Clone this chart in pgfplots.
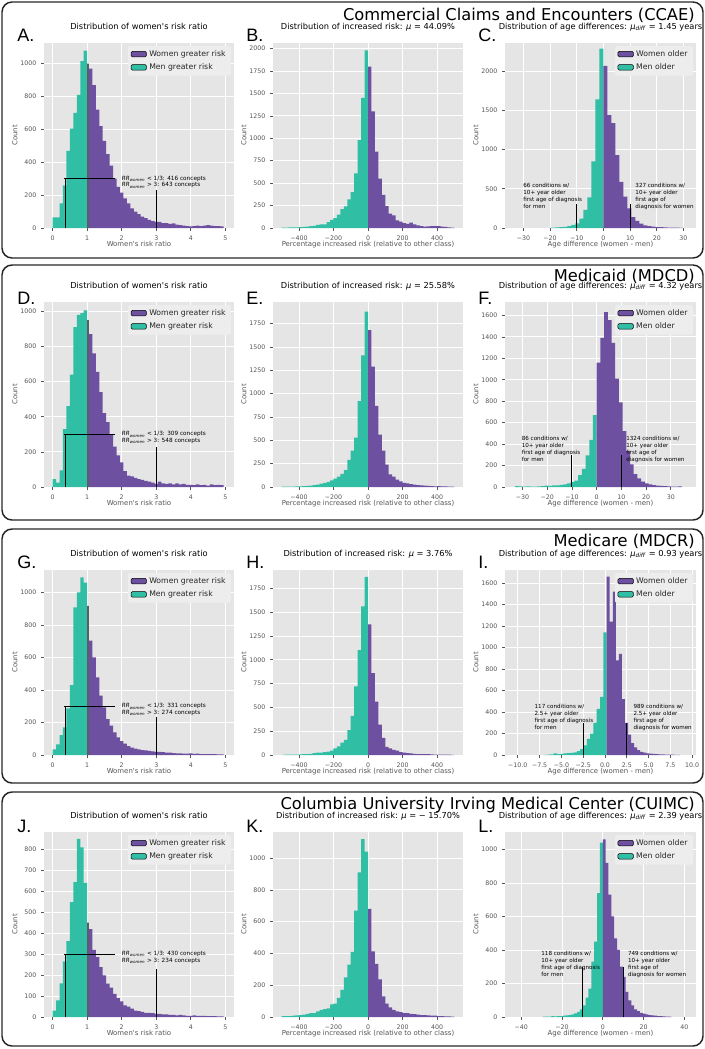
\documentclass[border=0pt]{standalone}
\usepackage{pgfplots}
\pgfplotsset{compat=1.18}
\usepackage{fontspec}
\setmainfont{DejaVu Sans}
\newfontfamily\lettfont{Liberation Sans}
\definecolor{purp}{RGB}{110,80,160}
\definecolor{tealc}{RGB}{48,190,165}
\definecolor{ovl}{RGB}{92,92,104}
\definecolor{bgc}{RGB}{229,229,229}
\definecolor{labc}{RGB}{85,85,85}
\definecolor{legbg}{RGB}{237,237,237}
\newcommand\titlefont{\fontsize{6.2}{7.4}\selectfont}
\newcommand\tickfont{\fontsize{4.7}{5.6}\selectfont}
\newcommand\labfont{\fontsize{5.2}{6.2}\selectfont}
\newcommand\legfont{\fontsize{5.8}{6.6}\selectfont}
\newcommand\annfont{\fontsize{4.2}{5.25}\selectfont}
\newcommand\rrfont{\fontsize{4.3}{5}\selectfont}
\newcommand\panelfont{\fontsize{12.2}{14}\selectfont}
\newcommand\letterfont{\lettfont\fontsize{13.5}{15}\selectfont}
\newcommand\RR{\textit{RR}\textsubscript{\textit{women}}}
\newcommand\mudiff{\textit{μ}\textsubscript{\textit{diff}}}
\tikzset{ln/.style={black, line width=0.75pt}}
\pgfplotsset{
  hbase/.style={
    scale only axis, height=138.75pt,
    axis background/.style={fill=bgc},
    axis line style={draw=none},
    xmajorgrids, ymajorgrids,
    grid style={white, line width=0.6pt},
    tick align=outside, major tick length=2.2pt,
    tick style={labc, line width=0.5pt},
    xtick pos=left, ytick pos=left,
    ymin=0, enlargelimits=false,
    ticklabel style={font=\tickfont, text=labc},
    /pgf/number format/1000 sep={},
    /pgf/number format/assume math mode=true,
    title style={font=\titlefont, at={(axis description cs:0.5,1.032)}, anchor=base, inner sep=0pt},
    xlabel style={font=\labfont, text=labc, at={(axis description cs:0.5,-0.1)}, anchor=base, inner sep=0pt},
    ylabel style={font=\labfont, text=labc, at={(axis description cs:-0.153,0.5)}, anchor=center, inner sep=0pt},
    ylabel={Count},
    legend style={at={(axis description cs:0.985,0.985)}, anchor=north east, draw=none, fill=legbg,
      font=\legfont, text=black!85, inner xsep=2pt, inner ysep=1.2pt, row sep=0pt, rounded corners=1pt,
      cells={anchor=west}},
    legend image code/.code={\fill[#1] (0pt,-2pt) rectangle (11.5pt,2.2pt);},
  },
  c1/.style={hbase, width=142.5pt, xmin=-0.25, xmax=5.25, xtick={0,1,2,3,4,5},
    xlabel={Women\textquotesingle s risk ratio}, title={Distribution of women\textquotesingle s risk ratio}},
  c2/.style={hbase, width=142.5pt, xmin=-550, xmax=550, xtick={-400,-200,0,200,400},
    xticklabels={−400,−200,0,200,400}, xlabel={Percentage increased risk (relative to other class)}},
  c3/.style={hbase, width=143.25pt, xlabel={Age difference (women - men)}},
  ht/.style={draw=none, fill=tealc, const plot mark left, mark=none, forget plot},
  hp/.style={draw=none, fill=purp, const plot mark left, mark=none, forget plot},
  ho/.style={draw=none, fill=ovl, const plot mark left, mark=none, forget plot},
}
\begin{document}
\begin{tikzpicture}
\useasboundingbox (0,0) rectangle (528.75pt,-786.75pt);
% ============ ROW 1 ============
\begin{axis}[c1, at={(33pt,-171pt)}, anchor=south west, ymax=1126, ytick={0,200,...,1000}]
\addplot[ht] coordinates {(0,65)(0.1,65)(0.2,150)(0.3,260)(0.4,470)(0.5,605)(0.6,700)(0.7,810)(0.8,1015)(0.9,1080)(1.0,1080)} \closedcycle;
\addplot[ho] coordinates {(1.0,1000)(1.05,1000)} \closedcycle;
\addplot[hp] coordinates {(1.05,970)(1.15,870)(1.25,720)(1.35,620)(1.45,530)(1.55,450)(1.65,380)(1.75,300)(1.85,250)(1.95,215)(2.05,180)(2.15,150)(2.25,120)(2.35,100)(2.45,85)(2.55,70)(2.65,60)(2.75,50)(2.85,42)(2.95,38)(3.05,38)(3.15,30)(3.25,30)(3.35,25)(3.45,28)(3.55,20)(3.65,18)(3.75,15)(3.85,12)(3.95,10)(4.05,12)(4.15,15)(4.25,12)(4.35,15)(4.45,18)(4.55,15)(4.65,12)(4.75,12)(4.85,10)(4.95,10)} \closedcycle;
\draw[ln] (axis cs:0.36,0) -- (axis cs:0.36,300);
\draw[ln] (axis cs:0.34,300) -- (axis cs:1.8,300);
\draw[ln] (axis cs:3,0) -- (axis cs:3,232);
\node[anchor=west, font=\rrfont, inner sep=0] at (axis cs:2.0,300) {\RR{} < 1/3: 416 concepts};
\node[anchor=west, font=\rrfont, inner sep=0, yshift=-5pt] at (axis cs:2.0,300) {\RR{} > 3: 643 concepts};
\addlegendimage{fill=purp}\addlegendentry{Women greater risk}
\addlegendimage{fill=tealc}\addlegendentry{Men greater risk}
\end{axis}
\begin{axis}[c2, at={(204.75pt,-171pt)}, anchor=south west, ymax=2062, ytick={0,250,...,2000},
  title={Distribution of increased risk: \textit{μ} = 44.09\%}]
\addplot[ht] coordinates {(-500,5)(-480,5)(-460,6)(-440,8)(-420,8)(-400,10)(-380,12)(-360,15)(-340,20)(-320,25)(-300,35)(-280,40)(-260,40)(-240,65)(-220,90)(-200,110)(-180,150)(-160,210)(-140,240)(-120,320)(-100,400)(-80,610)(-60,980)(-40,1450)(-20,1980)(0,1980)} \closedcycle;
\addplot[hp] coordinates {(0,1800)(20,1300)(40,850)(60,550)(80,370)(100,245)(120,160)(140,140)(160,85)(180,70)(200,55)(220,45)(240,60)(260,40)(280,30)(300,20)(320,15)(340,18)(360,20)(380,22)(400,20)(420,15)(440,12)(460,8)(480,5)(500,5)} \closedcycle;
\end{axis}
\begin{axis}[c3, at={(378.75pt,-171pt)}, anchor=south west, xmin=-36.9, xmax=34.7, ymax=2361,
  xtick={-30,-20,...,30}, xticklabels={−30,−20,−10,0,10,20,30}, ytick={0,500,...,2000},
  title={Distribution of age differences: \mudiff{} = 1.45 years}]
\addplot[ht] coordinates {(-19.5,5)(-18,8)(-16.5,10)(-15,15)(-13.5,25)(-12,40)(-10.5,60)(-9,120)(-7.5,230)(-6,390)(-4.5,850)(-3,1640)(-1.5,2290)(0,2290)} \closedcycle;
\addplot[hp] coordinates {(0,2070)(1.5,1440)(3,1340)(4.5,930)(6,590)(7.5,400)(9,250)(10.5,140)(12,90)(13.5,55)(15,35)(16.5,25)(18,18)(19.5,12)(21,10)(22.5,8)(24,6)(25.5,5)(27,4)(28.5,3)(30,3)} \closedcycle;
\draw[ln] (axis cs:-10,0) -- (axis cs:-10,300);
\draw[ln] (axis cs:10,0) -- (axis cs:10,300);
\node[anchor=north west, align=left, font=\annfont, inner sep=0] at (axis cs:-30.1,575) {66 conditions w/\\10+ year older\\first age of diagnosis\\for men};
\node[anchor=north west, align=left, font=\annfont, inner sep=0] at (axis cs:11.9,575) {327 conditions w/\\10+ year older\\first age of\\diagnosis for women};
\addlegendimage{fill=purp}\addlegendentry{Women older}
\addlegendimage{fill=tealc}\addlegendentry{Men older}
\end{axis}
% ============ ROW 2 ============
\begin{axis}[c1, at={(33pt,-365.25pt)}, anchor=south west, ymax=1053, ytick={0,200,...,1000}]
\addplot[ht] coordinates {(0,45)(0.1,25)(0.2,95)(0.3,330)(0.4,460)(0.5,640)(0.6,910)(0.7,980)(0.8,990)(0.9,1005)(1.0,1005)} \closedcycle;
\addplot[ho] coordinates {(1.0,950)(1.05,950)} \closedcycle;
\addplot[hp] coordinates {(1.05,870)(1.15,760)(1.25,655)(1.35,540)(1.45,420)(1.55,370)(1.65,295)(1.75,230)(1.85,180)(1.95,140)(2.05,90)(2.15,65)(2.25,60)(2.35,52)(2.45,45)(2.55,40)(2.65,35)(2.75,30)(2.85,25)(2.95,18)(3.05,30)(3.15,20)(3.25,18)(3.35,20)(3.45,15)(3.55,20)(3.65,15)(3.75,18)(3.85,12)(3.95,12)(4.05,10)(4.15,15)(4.25,10)(4.35,12)(4.45,8)(4.55,15)(4.65,10)(4.75,12)(4.85,10)(4.95,10)} \closedcycle;
\draw[ln] (axis cs:0.36,0) -- (axis cs:0.36,300);
\draw[ln] (axis cs:0.34,300) -- (axis cs:1.8,300);
\draw[ln] (axis cs:3,0) -- (axis cs:3,228);
\node[anchor=west, font=\rrfont, inner sep=0] at (axis cs:2.0,300) {\RR{} < 1/3: 309 concepts};
\node[anchor=west, font=\rrfont, inner sep=0, yshift=-5pt] at (axis cs:2.0,300) {\RR{} > 3: 548 concepts};
\addlegendimage{fill=purp}\addlegendentry{Women greater risk}
\addlegendimage{fill=tealc}\addlegendentry{Men greater risk}
\end{axis}
\begin{axis}[c2, at={(204.75pt,-365.25pt)}, anchor=south west, ymax=1982, ytick={0,250,...,1750},
  title={Distribution of increased risk: \textit{μ} = 25.58\%}]
\addplot[ht] coordinates {(-500,3)(-480,3)(-460,4)(-440,5)(-420,6)(-400,8)(-380,10)(-360,12)(-340,15)(-320,20)(-300,25)(-280,35)(-260,45)(-240,55)(-220,70)(-200,90)(-180,110)(-160,140)(-140,180)(-120,290)(-100,390)(-80,530)(-60,920)(-40,1410)(-20,1880)(0,1880)} \closedcycle;
\addplot[hp] coordinates {(0,1680)(20,1290)(40,870)(60,560)(80,390)(100,240)(120,135)(140,110)(160,80)(180,60)(200,45)(220,40)(240,30)(260,25)(280,20)(300,18)(320,15)(340,12)(360,10)(380,8)(400,10)(420,6)(440,8)(460,5)(480,4)(500,4)} \closedcycle;
\end{axis}
\begin{axis}[c3, at={(378.75pt,-365.25pt)}, anchor=south west, xmin=-37.1, xmax=40.2, ymax=1725,
  xtick={-30,-20,...,30}, xticklabels={−30,−20,−10,0,10,20,30}, ytick={0,200,...,1600},
  title={Distribution of age differences: \mudiff{} = 4.32 years}]
\addplot[ht] coordinates {(-33,8)(-31.5,5)(-30,3)(-28.5,5)(-27,3)(-25.5,4)(-24,5)(-22.5,8)(-21,12)(-19.5,10)(-18,15)(-16.5,15)(-15,20)(-13.5,25)(-12,35)(-10.5,45)(-9,60)(-7.5,110)(-6,170)(-4.5,295)(-3,440)(-1.5,670)(0,670)} \closedcycle;
\addplot[hp] coordinates {(0,1160)(1.5,1390)(3,1630)(4.5,1555)(6,1345)(7.5,1010)(9,790)(10.5,520)(12,335)(13.5,210)(15,120)(16.5,80)(18,50)(19.5,35)(21,25)(22.5,18)(24,12)(25.5,10)(27,8)(28.5,5)(30,4)(31.5,3)(33,5)(34.5,5)} \closedcycle;
\draw[ln] (axis cs:-10,0) -- (axis cs:-10,300);
\draw[ln] (axis cs:10,0) -- (axis cs:10,300);
\node[anchor=north west, align=left, font=\annfont, inner sep=0] at (axis cs:-30.4,475) {86 conditions w/\\10+ year older\\first age of diagnosis\\for men};
\node[anchor=north west, align=left, font=\annfont, inner sep=0] at (axis cs:11.9,475) {1324 conditions w/\\10+ year older\\first age of\\diagnosis for women};
\addlegendimage{fill=purp}\addlegendentry{Women older}
\addlegendimage{fill=tealc}\addlegendentry{Men older}
\end{axis}
% ============ ROW 3 ============
\begin{axis}[c1, at={(33pt,-566.25pt)}, anchor=south west, ymax=1138, ytick={0,200,...,1000}]
\addplot[ht] coordinates {(0,35)(0.1,66)(0.2,123)(0.3,170)(0.4,287)(0.5,430)(0.6,908)(0.7,1000)(0.8,1092)(0.9,1061)(1.0,1061)} \closedcycle;
\addplot[ho] coordinates {(1.0,918)(1.05,918)} \closedcycle;
\addplot[hp] coordinates {(1.05,703)(1.15,600)(1.25,477)(1.35,365)(1.45,293)(1.55,221)(1.65,180)(1.75,139)(1.85,109)(1.95,85)(2.05,70)(2.15,55)(2.25,45)(2.35,40)(2.45,35)(2.55,30)(2.65,28)(2.75,25)(2.85,22)(2.95,20)(3.05,20)(3.15,18)(3.25,15)(3.35,15)(3.45,12)(3.55,10)(3.65,10)(3.75,8)(3.85,8)(3.95,10)(4.05,7)(4.15,8)(4.25,6)(4.35,6)(4.45,5)(4.55,6)(4.65,5)(4.75,4)(4.85,4)(4.95,4)} \closedcycle;
\draw[ln] (axis cs:0.36,0) -- (axis cs:0.36,300);
\draw[ln] (axis cs:0.34,300) -- (axis cs:1.8,300);
\draw[ln] (axis cs:3,0) -- (axis cs:3,232);
\node[anchor=west, font=\rrfont, inner sep=0] at (axis cs:2.0,300) {\RR{} < 1/3: 331 concepts};
\node[anchor=west, font=\rrfont, inner sep=0, yshift=-5pt] at (axis cs:2.0,300) {\RR{} > 3: 274 concepts};
\addlegendimage{fill=purp}\addlegendentry{Women greater risk}
\addlegendimage{fill=tealc}\addlegendentry{Men greater risk}
\end{axis}
\begin{axis}[c2, at={(204.75pt,-566.25pt)}, anchor=south west, ymax=1942, ytick={0,250,...,1750},
  title={Distribution of increased risk: \textit{μ} = 3.76\%}]
\addplot[ht] coordinates {(-500,2)(-480,3)(-460,3)(-440,4)(-420,5)(-400,6)(-380,8)(-360,10)(-340,12)(-320,20)(-300,25)(-280,25)(-260,30)(-240,35)(-220,45)(-200,70)(-180,90)(-160,130)(-140,160)(-120,260)(-100,410)(-80,720)(-60,1100)(-40,1560)(-20,1870)(0,1870)} \closedcycle;
\addplot[hp] coordinates {(0,1370)(20,860)(40,560)(60,320)(80,180)(100,85)(120,70)(140,55)(160,45)(180,30)(200,25)(220,20)(240,18)(260,12)(280,10)(300,8)(320,8)(340,10)(360,6)(380,5)(400,5)(420,4)(440,3)(460,3)(480,2)(500,2)} \closedcycle;
\end{axis}
\begin{axis}[c3, at={(378.75pt,-566.25pt)}, anchor=south west, xmin=-11.47, xmax=10.44, ymax=1721,
  xtick={-10,-7.5,...,10}, xticklabels={−10.0,−7.5,−5.0,−2.5,0.0,2.5,5.0,7.5,10.0}, ytick={0,200,...,1600},
  title={Distribution of age differences: \mudiff{} = 0.93 years}]
\addplot[ht] coordinates {(-7.03,2)(-6.65,3)(-6.27,5)(-5.89,15)(-5.51,8)(-5.13,10)(-4.75,15)(-4.37,18)(-3.99,20)(-3.61,25)(-3.23,35)(-2.85,55)(-2.47,90)(-2.09,150)(-1.71,200)(-1.33,300)(-0.95,430)(-0.57,540)(-0.19,1140)(0.19,1140)} \closedcycle;
\addplot[hp] coordinates {(0.19,1660)(0.54,1240)(0.89,1520)(1.24,880)(1.59,940)(1.94,520)(2.29,300)(2.64,190)(2.99,110)(3.34,70)(3.69,45)(4.04,30)(4.39,22)(4.74,15)(5.09,12)(5.44,10)(5.79,8)(6.14,6)(6.49,5)(6.84,4)(7.19,3)(7.54,3)(7.89,2)(8.24,2)(8.59,2)} \closedcycle;
\draw[ln] (axis cs:-2.5,0) -- (axis cs:-2.5,300);
\draw[ln] (axis cs:2.5,0) -- (axis cs:2.5,300);
\node[anchor=north west, align=left, font=\annfont, inner sep=0] at (axis cs:-8.1,474) {117 conditions w/\\2.5+ year older\\first age of diagnosis\\for men};
\node[anchor=north west, align=left, font=\annfont, inner sep=0] at (axis cs:3.25,474) {989 conditions w/\\2.5+ year older\\first age of\\diagnosis for women};
\addlegendimage{fill=purp}\addlegendentry{Women older}
\addlegendimage{fill=tealc}\addlegendentry{Men older}
\end{axis}
% ============ ROW 4 ============
\begin{axis}[c1, at={(33pt,-762.75pt)}, anchor=south west, ymax=883, ytick={0,100,...,800}]
\addplot[ht] coordinates {(0,30)(0.1,80)(0.2,160)(0.3,265)(0.4,362)(0.5,548)(0.6,644)(0.7,850)(0.8,810)(0.9,640)(1.0,640)} \closedcycle;
\addplot[ho] coordinates {(1.0,450)(1.05,450)} \closedcycle;
\addplot[hp] coordinates {(1.05,420)(1.15,320)(1.25,286)(1.35,238)(1.45,199)(1.55,159)(1.65,140)(1.75,111)(1.85,90)(1.95,75)(2.05,55)(2.15,50)(2.25,40)(2.35,30)(2.45,28)(2.55,25)(2.65,20)(2.75,20)(2.85,18)(2.95,15)(3.05,15)(3.15,12)(3.25,12)(3.35,10)(3.45,10)(3.55,8)(3.65,10)(3.75,8)(3.85,6)(3.95,6)(4.05,8)(4.15,5)(4.25,5)(4.35,6)(4.45,4)(4.55,4)(4.65,4)(4.75,3)(4.85,3)(4.95,3)} \closedcycle;
\draw[ln] (axis cs:0.36,0) -- (axis cs:0.36,300);
\draw[ln] (axis cs:0.34,300) -- (axis cs:1.8,300);
\draw[ln] (axis cs:3,0) -- (axis cs:3,230);
\node[anchor=west, font=\rrfont, inner sep=0] at (axis cs:2.0,300) {\RR{} < 1/3: 430 concepts};
\node[anchor=west, font=\rrfont, inner sep=0, yshift=-5pt] at (axis cs:2.0,300) {\RR{} > 3: 234 concepts};
\addlegendimage{fill=purp}\addlegendentry{Women greater risk}
\addlegendimage{fill=tealc}\addlegendentry{Men greater risk}
\end{axis}
\begin{axis}[c2, at={(204.75pt,-762.75pt)}, anchor=south west, ymax=1164, ytick={0,200,...,1000},
  title={Distribution of increased risk: \textit{μ} = − 15.70\%}]
\addplot[ht] coordinates {(-500,5)(-480,5)(-460,6)(-440,8)(-420,10)(-400,12)(-380,15)(-360,20)(-340,25)(-320,25)(-300,35)(-280,45)(-260,50)(-240,55)(-220,80)(-200,85)(-180,120)(-160,170)(-140,250)(-120,330)(-100,410)(-80,670)(-60,910)(-40,1120)(-20,1040)(0,1040)} \closedcycle;
\addplot[hp] coordinates {(0,680)(20,413)(40,335)(60,237)(80,130)(100,85)(120,60)(140,45)(160,35)(180,30)(200,25)(220,25)(240,20)(260,18)(280,15)(300,12)(320,12)(340,10)(360,8)(380,8)(400,6)(420,5)(440,4)(460,4)(480,3)(500,3)} \closedcycle;
\end{axis}
\begin{axis}[c3, at={(378.75pt,-762.75pt)}, anchor=south west, xmin=-47.9, xmax=45.7, ymax=1104,
  xtick={-40,-20,0,20,40}, xticklabels={−40,−20,0,20,40}, ytick={0,200,...,1000},
  title={Distribution of age differences: \mudiff{} = 2.39 years}]
\addplot[ht] coordinates {(-29.4,2)(-28,2)(-26.6,3)(-25.2,5)(-23.8,4)(-22.4,5)(-21,6)(-19.6,8)(-18.2,10)(-16.8,12)(-15.4,15)(-14,22)(-12.6,30)(-11.2,45)(-9.8,70)(-8.4,115)(-7,170)(-5.6,330)(-4.2,450)(-2.8,740)(-1.4,1040)(0,1040)} \closedcycle;
\addplot[hp] coordinates {(0,1060)(1.4,920)(2.8,730)(4.2,600)(5.6,470)(7,400)(8.4,300)(9.8,240)(11.2,150)(12.6,100)(14,70)(15.4,45)(16.8,35)(18.2,25)(19.6,20)(21,15)(22.4,12)(23.8,10)(25.2,8)(26.6,6)(28,5)(29.4,4)(30.8,3)(32.2,2)(33.6,2)} \closedcycle;
\draw[ln] (axis cs:-10,0) -- (axis cs:-10,300);
\draw[ln] (axis cs:10,0) -- (axis cs:10,300);
\node[anchor=north west, align=left, font=\annfont, inner sep=0] at (axis cs:-30.2,397) {118 conditions w/\\10+ year older\\first age of diagnosis\\for men};
\node[anchor=north west, align=left, font=\annfont, inner sep=0] at (axis cs:12.25,397) {749 conditions w/\\10+ year older\\first age of\\diagnosis for women};
\addlegendimage{fill=purp}\addlegendentry{Women older}
\addlegendimage{fill=tealc}\addlegendentry{Men older}
\end{axis}
% ============ PANELS ============
\draw[line width=1.1pt, black!85, rounded corners=7.5pt] (1.5pt,-1.5pt) rectangle (527.25pt,-193.5pt);
\draw[line width=1.1pt, black!85, rounded corners=7.5pt] (1.5pt,-198.75pt) rectangle (527.25pt,-390pt);
\draw[line width=1.1pt, black!85, rounded corners=7.5pt] (1.5pt,-396.75pt) rectangle (527.25pt,-587.25pt);
\draw[line width=1.1pt, black!85, rounded corners=7.5pt] (1.5pt,-594pt) rectangle (527.25pt,-784.5pt);
\node[anchor=base east, font=\panelfont, inner sep=0] at (521.25pt,-15.2pt) {Commercial Claims and Encounters (CCAE)};
\node[anchor=base east, font=\panelfont, inner sep=0] at (521.25pt,-211.2pt) {Medicaid (MDCD)};
\node[anchor=base east, font=\panelfont, inner sep=0] at (521.25pt,-409.6pt) {Medicare (MDCR)};
\node[anchor=base east, font=\panelfont, inner sep=0] at (521.25pt,-607.2pt) {Columbia University Irving Medical Center (CUIMC)};
\foreach \L/\X/\Y in {A/12.75/-31.5, B/184.5/-31.5, C/358.5/-31.5, D/12.75/-228, E/184.5/-228, F/358.5/-228, G/12.75/-426, H/184.5/-426, I/358.5/-426, J/12.75/-624, K/184.5/-624, L/358.5/-624}
  \node[anchor=base west, font=\letterfont, inner sep=0] at (\X pt,\Y pt) {\L.};
\end{tikzpicture}
\end{document}
